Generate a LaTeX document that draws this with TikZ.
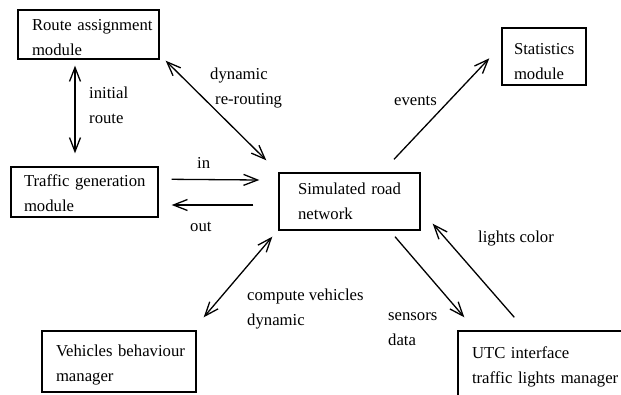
\documentclass[tikz,border=0pt]{standalone}
\usepackage{fontspec}
\setmainfont{Liberation Serif}
\usetikzlibrary{arrows.meta}
\newcommand{\topstrut}[1]{\rule{0pt}{#1pt}}
\tikzset{
  box/.style={draw=black,line width=1.4pt,align=left,inner ysep=0pt,font=\fontsize{16.7}{25}\selectfont},
  lbl/.style={anchor=west,inner sep=0pt,align=left,font=\fontsize{16.7}{25}\selectfont},
  uni/.style={line width=1.3pt,-{Straight Barb[length=14pt,width=11pt,line width=1.3pt]}},
  bi/.style={line width=1.3pt,{Straight Barb[length=14pt,width=11pt,line width=1.3pt]}-{Straight Barb[length=14pt,width=11pt,line width=1.3pt]}}
}
\begin{document}
\begin{tikzpicture}[x=1pt,y=-1pt]
\useasboundingbox (0,0) rectangle (621,394);
\clip (0,0) rectangle (621,394);
\node[box,minimum width=141pt,minimum height=49pt,text width=113pt,inner xsep=14pt] (route) at (88.5,34.5) {\topstrut{17}\mbox{Route assignment}\\module};
\node[box,minimum width=147pt,minimum height=50pt,text width=121pt,inner xsep=13pt] (traffic) at (84.5,192) {\topstrut{14}\mbox{Traffic generation}\\module};
\node[box,minimum width=141pt,minimum height=57pt,text width=103pt,inner xsep=19pt] (road) at (349.5,201.5) {\mbox{Simulated road}\\network};
\node[box,minimum width=84pt,minimum height=57pt,text width=60pt,inner xsep=12pt] (stats) at (544,56.5) {\topstrut{22}Statistics\\module};
\node[box,minimum width=154pt,minimum height=61pt,text width=126pt,inner xsep=14pt] (veh) at (119,361.5) {\topstrut{18}\mbox{Vehicles behaviour}\\manager};
\node[box,minimum width=180pt,minimum height=70pt,text width=152pt,inner xsep=14pt] (utc) at (548,366) {\topstrut{14}UTC interface\\\mbox{traffic lights manager}};
\node[lbl] (linit) at (89,105) {initial\\route};
\node[lbl] (ldyn) at (210,88.5) {dynamic\\\hspace*{5pt}re-routing};
\node[lbl] (lin) at (197,163) {in};
\node[lbl] (lout) at (190,227) {out};
\node[lbl] (lev) at (394,100.5) {events};
\node[lbl] (llights) at (478,239) {lights color};
\node[lbl] (lcomp) at (247,309) {compute vehicles\\dynamic};
\node[lbl] (lsens) at (388,329) {sensors\\data};
\draw[bi] ([shift={(-13.5,6)}]route.south) -- ([shift={(-9.5,-13)}]traffic.north);
\draw[bi] ([shift={(6,1)}]route.south east) -- ([shift={(-12,-12)}]road.north west);
\draw[uni] ([shift={(13,13)}]traffic.north east) -- ([shift={(-19,-21.5)}]road.west);
\draw[uni] ([shift={(-25,3.5)}]road.west) -- ([shift={(13,13)}]traffic.east);
\draw[bi] ([shift={(-6,6)}]road.south west) -- ([shift={(7,-13)}]veh.north east);
\draw[uni] ([shift={(44.5,-13)}]road.north) -- ([shift={(-12,31)}]stats.north west);
\draw[uni] ([shift={(45.5,6)}]road.south) -- ([shift={(7,-13)}]utc.north west);
\draw[uni] ([shift={(57,-13)}]utc.north west) -- ([shift={(12,-7)}]road.south east);
\end{tikzpicture}
\end{document}
